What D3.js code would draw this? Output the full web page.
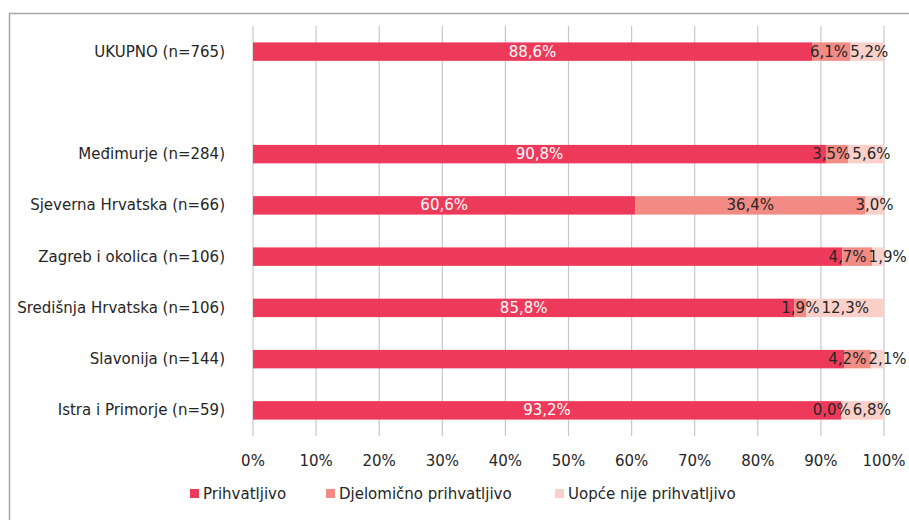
<!DOCTYPE html>
<html lang="hr">
<head>
<meta charset="UTF-8">
<script src="https://cdn.jsdelivr.net/npm/d3@7"></script>
<style>
  body { margin: 0; background: #fff; }
  text { font-family: "DejaVu Sans", "Noto Sans", sans-serif; fill: #262626; }
</style>
</head>
<body>
<svg id="chart" width="909" height="520"></svg>
<script>
// categories (empty string = spacer row under the total)
const categories = ["UKUPNO (n=765)", "", "Međimurje (n=284)", "Sjeverna Hrvatska (n=66)",
  "Zagreb i okolica (n=106)", "Središnja Hrvatska (n=106)", "Slavonija (n=144)", "Istra i Primorje (n=59)"];
const prihvatljivo   = [88.6, null, 90.8, 60.6, 93.4, 85.8, 93.7, 93.2];
const djelomicno     = [6.1,  null, 3.5, 36.4, 4.7, 1.9, 4.2, 0.0];
const uopceNije      = [5.2,  null, 5.6, 3.0, 1.9, 12.3, 2.1, 6.8];
// labels the original chart does not print: [row, series]
const hiddenLabels = [[4, 0], [6, 0]];
const seriesNames = ["Prihvatljivo", "Djelomično prihvatljivo", "Uopće nije prihvatljivo"];
const colors = ["#ee3a5a", "#f28b84", "#fbd0c9"];
const ticks = [0, 10, 20, 30, 40, 50, 60, 70, 80, 90, 100];

const fs = 15;
const svg = d3.select("#chart");

// outer frame
svg.append("rect")
  .attr("x", 9.5).attr("y", 13.5)
  .attr("width", 920).attr("height", 520)
  .attr("fill", "none").attr("stroke", "#a6a6a6").attr("stroke-width", 1.5);

const x = d3.scaleLinear().domain([0, 100]).range([253, 884]);
const y = d3.scaleBand().domain(d3.range(categories.length)).range([26, 436]).paddingInner(0.64).paddingOuter(0.32);

// gridlines
svg.append("g").selectAll("line").data(ticks).enter().append("line")
  .attr("x1", d => x(d)).attr("x2", d => x(d))
  .attr("y1", 26).attr("y2", 436)
  .attr("stroke", "#c8c8c8").attr("stroke-width", 1.2);

// tick labels
svg.append("g").selectAll("text").data(ticks).enter().append("text")
  .attr("x", d => x(d)).attr("y", 466)
  .attr("text-anchor", "middle").attr("font-size", fs)
  .text(d => d + "%");

// category labels
svg.append("g").selectAll("text").data(categories).enter().append("text")
  .attr("x", 225).attr("y", (d, i) => y(i) + y.bandwidth() / 2 + 5)
  .attr("text-anchor", "end").attr("font-size", fs)
  .text(d => d);

// stacked bars
const rows = categories.map((c, i) => [prihvatljivo[i], djelomicno[i], uopceNije[i]]);
const fmt = v => v.toFixed(1).replace(".", ",") + "%";
const isHidden = (i, s) => hiddenLabels.some(h => h[0] === i && h[1] === s);

const barG = svg.append("g");
const labelG = svg.append("g");

rows.forEach((vals, i) => {
  if (vals[0] === null) return;
  let start = 0;
  const labels = [];
  vals.forEach((v, s) => {
    barG.append("rect")
      .attr("x", x(start)).attr("y", y(i))
      .attr("width", x(start + v) - x(start)).attr("height", y.bandwidth())
      .attr("fill", colors[s]);
    if (!isHidden(i, s)) {
      const t = labelG.append("text")
        .attr("y", y(i) + y.bandwidth() / 2 + 5)
        .attr("text-anchor", "middle").attr("font-size", fs)
        .style("fill", s === 0 ? "#fff" : "#262626")
        .text(fmt(v));
      labels.push({ t, cx: x(start + v / 2), w: t.node().getComputedTextLength() });
    }
    start += v;
  });
  // push neighbouring labels apart when they collide
  for (let k = 0; k < 10; k++) {
    for (let j = 0; j < labels.length - 1; j++) {
      const a = labels[j], b = labels[j + 1];
      const overlap = (a.cx + a.w / 2 + 2) - (b.cx - b.w / 2);
      if (overlap > 0) {
        if (j === 0 && labels.length === 3) { b.cx += overlap; }
        else { a.cx -= overlap / 2; b.cx += overlap / 2; }
      }
    }
  }
  labels.forEach(l => l.t.attr("x", l.cx));
});

// legend
const legendX = [190, 326, 555];
const lg = svg.append("g").selectAll("g").data(seriesNames).enter().append("g")
  .attr("transform", (d, i) => `translate(${legendX[i]},498)`);
lg.append("rect").attr("x", 0).attr("y", -9).attr("width", 9).attr("height", 9)
  .attr("fill", (d, i) => colors[i]);
lg.append("text").attr("x", 13).attr("y", 1).attr("font-size", fs).text(d => d);
</script>
</body>
</html>
